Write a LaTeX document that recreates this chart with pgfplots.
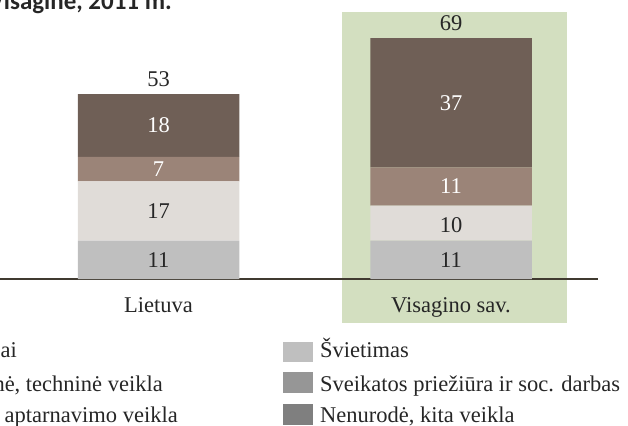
\documentclass[border=0pt]{standalone}
\usepackage{fontspec}
\setmainfont{Liberation Serif}
\newfontfamily\titlefont{Carlito}
\usepackage{pgfplots}
\pgfplotsset{compat=1.18}
\definecolor{segA}{HTML}{BFBFBF}
\definecolor{segB}{HTML}{E0DCD8}
\definecolor{segC}{HTML}{9B8478}
\definecolor{segD}{HTML}{6F5F56}
\definecolor{legB}{HTML}{969696}
\definecolor{legC}{HTML}{7F7F7F}
\definecolor{hlgreen}{HTML}{D3DFC0}
\definecolor{txt}{HTML}{262626}
\definecolor{baseln}{HTML}{403A30}

\pgfplotsset{
  frame/.style={
    scale only axis, width=628pt, height=425pt,
    at={(0,0)}, anchor=south west,
    xmin=0, xmax=628, ymin=-41.83, ymax=79.94,
    axis lines=none, clip=false,
  },
  lbl/.style={
    only marks, mark=none, nodes near coords,
    point meta=explicit symbolic,
    nodes near coords style={anchor=center, inner sep=0pt, font=\fontsize{22.5}{26}\selectfont, text=#1},
  },
}

\begin{document}
\begin{tikzpicture}[x=1pt,y=1pt]
\useasboundingbox (0,0) rectangle (628,425);
\clip (0,0) rectangle (628,425);

% highlight behind Visagino sav.
\fill[hlgreen] (342,102) rectangle (567,413);

\begin{axis}[frame, ybar stacked, bar width=161.5]
\addplot[fill=segA, draw=none] coordinates {(158.5,11) (451,11)};
\addplot[fill=segB, draw=none] coordinates {(158.5,17) (451,10)};
\addplot[fill=segC, draw=none] coordinates {(158.5,7) (451,11)};
\addplot[fill=segD, draw=none] coordinates {(158.5,18) (451,37)};
\draw[baseln, line width=1.6pt] (axis cs:0,0) -- (axis cs:598,0);
\end{axis}

\begin{axis}[frame]
\addplot[lbl=txt] coordinates {
  (158.5,5.5) [11] (158.5,19.5) [17] (158.5,57.4) [53]
  (451,5.5) [11] (451,15.5) [10] (451,73.4) [69]
};
\addplot[lbl=white] coordinates {
  (158.5,31.5) [7] (158.5,44) [18]
  (451,26.5) [11] (451,50.5) [37]
};
\end{axis}

% title (cropped)
\node[anchor=base east, inner sep=0pt, text=txt, font=\titlefont\bfseries\fontsize{25}{29}\selectfont] at (172,415) {ir Visagine, 2011 m.};

% category labels
\begin{scope}[every node/.style={inner sep=0pt, text=txt, font=\fontsize{22.5}{26}\selectfont}]
\node[anchor=base] at (158.5,112) {Lietuva};
\node[anchor=base] at (451,112) {Visagino sav.};

% legend, left column (cropped)
\node[anchor=base east] at (17,67) {ai};
\node[anchor=base east] at (163,33.5) {nė, techninė veikla};
\node[anchor=base east] at (178,2) {aptarnavimo veikla};

% legend, right column
\fill[segA] (283,63) rectangle (313,83);
\fill[legB] (283,32) rectangle (313,53);
\fill[legC] (283,0) rectangle (313,21);
\node[anchor=base west] at (320,67) {Švietimas};
\node[anchor=base west] at (320,33.5) {Sveikatos priežiūra ir soc. darbas};
\node[anchor=base west] at (320,2) {Nenurodė, kita veikla};
\end{scope}
\end{tikzpicture}
\end{document}
